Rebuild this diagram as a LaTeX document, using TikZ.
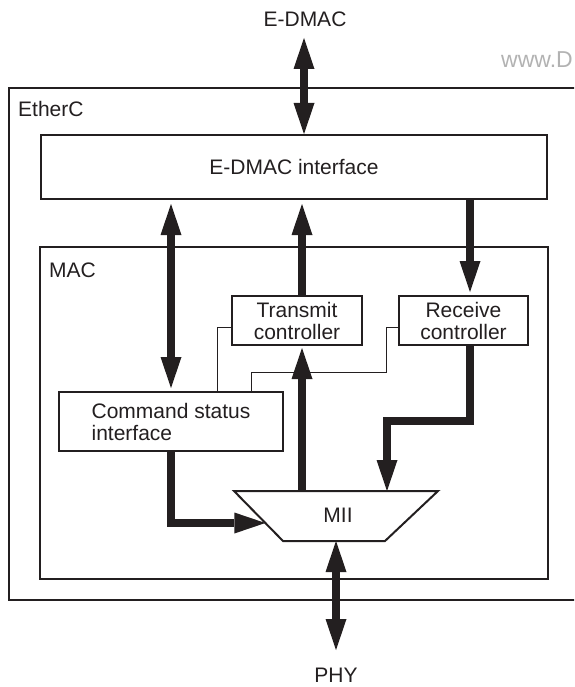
\documentclass[tikz,border=0pt]{standalone}
\usepackage{fontspec}
\setmainfont{Liberation Sans}
\usetikzlibrary{arrows.meta,calc}
\definecolor{ink}{RGB}{35,31,32}
\tikzset{
  BT/.tip={Triangle[length=31pt,width=21pt,line width=0pt]},
  lbl/.style={font=\fontsize{21}{22}\selectfont, text=ink, inner sep=0pt},
  blk/.style={draw=ink, line width=2pt, fill=white, font=\fontsize{21}{22}\selectfont, text=ink, align=center, inner sep=0pt},
  frame/.style={draw=ink, line width=2pt},
  bigarr/.style={draw=ink, line width=8pt, -BT},
  bigdbl/.style={draw=ink, line width=8pt, BT-BT},
  wire/.style={draw=ink, line width=1pt}
}
\begin{document}
\begin{tikzpicture}[x=1pt,y=-1pt]
\useasboundingbox (0,0) rectangle (574,687);
\clip (0,0) rectangle (574,687);
% column / row helpers
\coordinate (colA) at (171,0);
\coordinate (colB) at (302,0);
\coordinate (colC) at (470,0);
\coordinate (colD) at (387,0);
\coordinate (colE) at (336,0);
\coordinate (colF) at (217,0);
\coordinate (colG) at (386,0);
\coordinate (colH) at (251,0);
\coordinate (rowR) at (0,421);
\coordinate (rowT) at (0,327);
\coordinate (rowM) at (0,372);
% frames
\draw[frame] (9,88) rectangle (600,600);
\node[lbl, anchor=west] (etherc) at (18,109) {EtherC};
\draw[frame] (40,247) rectangle (548,579);
\node[lbl, anchor=west] (mac) at (49,270) {MAC};
% watermark
\node[anchor=east, inner sep=0pt, text=black!30, font=\fontsize{23}{26}\selectfont] (wm) at (573,60) {www.D};
% labels
\node[lbl] (edmac) at (305,19) {E-DMAC};
\node[lbl] (phy) at (336,675) {PHY};
\coordinate (edmacTip) at (304,38);
\coordinate (phyTip) at (336,650);
% blocks
\node[blk, minimum width=506pt, minimum height=64pt] (iface) at (294,167) {E-DMAC interface};
\node[blk, minimum width=130pt, minimum height=49pt] (tx) at (297,320.5) {Transmit\\controller};
\node[blk, minimum width=129pt, minimum height=49pt] (rx) at (463.5,320.5) {Receive\\controller};
\node[blk, minimum width=224pt, minimum height=59pt, align=left] (cmd) at (171,421.5) {Command status\\interface};
% MII trapezoid
\coordinate (miiTL) at (234,491);
\coordinate (miiTR) at (438,491);
\coordinate (miiBR) at (385,541);
\coordinate (miiBL) at (283,541);
\draw[frame, fill=white] (miiTL) -- (miiTR) -- (miiBR) -- (miiBL) -- cycle;
\node[lbl] (mii) at (338,515) {MII};
\coordinate (miiIn) at ($(miiTL)!0.64!(miiBL)$);
% thin wires
\draw[wire] (tx.west |- rowT) -- (colF |- rowT) -- (colF |- cmd.north);
\draw[wire] (rx.west |- rowT) -- (colG |- rowT) -- (colG |- rowM) -- (colH |- rowM) -- (colH |- cmd.north);
% thick connectors
\draw[bigdbl] (edmacTip) -- (iface.north -| edmacTip);
\draw[bigdbl, shorten <=4pt, shorten >=3pt] (iface.south -| colA) -- (cmd.north -| colA);
\draw[bigarr, shorten >=4pt] (tx.north -| colB) -- (iface.south -| colB);
\draw[bigarr, shorten >=3pt] (iface.south -| colC) -- (rx.north -| colC);
\draw[bigarr, shorten >=2pt] (colB |- miiTL) -- (tx.south -| colB);
\draw[bigarr] (rx.south -| colC) -- (colC |- rowR) -- (colD |- rowR) -- (colD |- miiTL);
\draw[bigarr] (cmd.south -| colA) |- (miiIn);
\draw[bigdbl] (colE |- miiBL) -- (phyTip);
\end{tikzpicture}
\end{document}
